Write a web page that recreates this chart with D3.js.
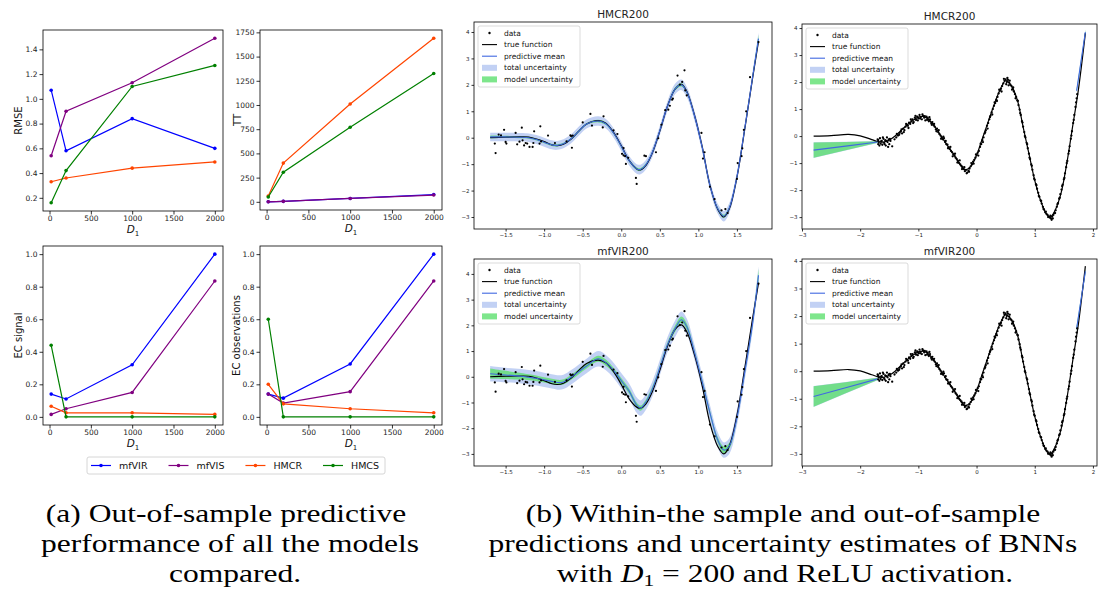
<!DOCTYPE html>
<html>
<head>
<meta charset="utf-8">
<script src="https://cdn.jsdelivr.net/npm/d3@7"></script>
<style>
  body { margin: 0; background: #fff; }
  svg { display: block; font-family: "DejaVu Sans", sans-serif; }
</style>
</head>
<body>
<svg id="fig" width="1100" height="598"></svg>
<script>
// ---- (a) metrics vs D1 ----
var D1 = [20, 200, 1000, 2000];
var models = ["mfVIR", "mfVIS", "HMCR", "HMCS"];
var modelColors = ["#0000ff", "#800080", "#ff4500", "#008000"];

// one row per model, in the order of `models`
var rmse = [[1.07, 0.58, 0.84, 0.60], [0.54, 0.90, 1.13, 1.49], [0.33, 0.36, 0.44, 0.49], [0.16, 0.42, 1.10, 1.27]];
var tt = [[0, 5, 35, 75], [0, 5, 35, 70], [60, 400, 1010, 1690], [50, 305, 770, 1325]];
var ecSignal = [[0.14, 0.11, 0.32, 1.0], [0.015, 0.05, 0.15, 0.835], [0.065, 0.025, 0.025, 0.015], [0.44, 0, 0, 0]];
var ecObs = [[0.14, 0.115, 0.325, 1.0], [0.14, 0.085, 0.155, 0.835], [0.20, 0.08, 0.05, 0.025], [0.60, 0, 0, 0]];

var d1Ticks = [0, 500, 1000, 1500, 2000];
var rmseTicks = [0.2, 0.4, 0.6, 0.8, 1.0, 1.2, 1.4];
var ttTicks = [0, 250, 500, 750, 1000, 1250, 1500, 1750];
var ecTicks = [0.0, 0.2, 0.4, 0.6, 0.8, 1.0];

// ---- (b) regression fits ----
var legendLabels = ["data", "true function", "predictive mean", "total uncertainty", "model uncertainty"];

// within-sample grid
var xIn = [-1.7, -1.5, -1.3, -1.2, -1.1, -1.0, -0.9, -0.83, -0.75, -0.65, -0.55, -0.45, -0.3, -0.2, -0.1, 0.0, 0.1, 0.2, 0.25, 0.32, 0.4, 0.5, 0.6, 0.7, 0.78, 0.85, 0.95, 1.05, 1.15, 1.25, 1.33, 1.4, 1.5, 1.6, 1.7, 1.78];
var trueIn = [0.0, 0.02, 0.03, 0.02, -0.05, -0.15, -0.27, -0.30, -0.25, -0.05, 0.25, 0.52, 0.65, 0.55, 0.2, -0.3, -0.85, -1.18, -1.22, -1.05, -0.6, 0.25, 1.2, 1.85, 2.02, 1.75, 0.85, -0.35, -1.8, -2.7, -3.0, -2.7, -1.5, 0.3, 2.2, 3.65];
var meanHmcrIn = [0.03, 0.03, 0.02, 0.0, -0.07, -0.17, -0.27, -0.29, -0.23, -0.04, 0.25, 0.52, 0.63, 0.53, 0.18, -0.32, -0.86, -1.18, -1.2, -1.02, -0.58, 0.27, 1.2, 1.85, 2.0, 1.73, 0.83, -0.37, -1.8, -2.68, -2.97, -2.67, -1.48, 0.32, 2.22, 3.75];
var totalHmcrIn = [0.16, 0.16, 0.16, 0.16, 0.17, 0.17, 0.17, 0.17, 0.17, 0.17, 0.17, 0.17, 0.18, 0.18, 0.18, 0.18, 0.18, 0.18, 0.18, 0.18, 0.18, 0.18, 0.19, 0.2, 0.2, 0.2, 0.19, 0.18, 0.18, 0.19, 0.2, 0.19, 0.18, 0.18, 0.19, 0.22];
var modelHmcrIn = [0.05, 0.04, 0.04, 0.04, 0.04, 0.04, 0.04, 0.04, 0.04, 0.04, 0.04, 0.04, 0.05, 0.05, 0.05, 0.05, 0.05, 0.05, 0.05, 0.05, 0.05, 0.05, 0.05, 0.06, 0.06, 0.06, 0.05, 0.05, 0.05, 0.06, 0.06, 0.06, 0.05, 0.06, 0.08, 0.15];
var meanMfvirIn = [0.12, 0.07, 0.02, -0.02, -0.06, -0.12, -0.18, -0.22, -0.2, -0.02, 0.2, 0.42, 0.7, 0.55, 0.25, -0.15, -0.55, -1.1, -1.22, -0.98, -0.5, 0.35, 1.25, 1.88, 2.22, 1.95, 0.95, -0.2, -1.4, -2.45, -2.85, -2.7, -1.6, 0.15, 2.0, 3.95];
var totalMfvirIn = [0.3, 0.28, 0.28, 0.28, 0.28, 0.28, 0.28, 0.28, 0.28, 0.28, 0.28, 0.28, 0.3, 0.3, 0.3, 0.3, 0.3, 0.3, 0.3, 0.3, 0.3, 0.3, 0.3, 0.32, 0.32, 0.32, 0.3, 0.3, 0.3, 0.3, 0.3, 0.3, 0.3, 0.3, 0.3, 0.35];
var modelMfvirIn = [0.2, 0.16, 0.13, 0.12, 0.11, 0.1, 0.1, 0.1, 0.1, 0.1, 0.1, 0.1, 0.12, 0.12, 0.1, 0.1, 0.1, 0.1, 0.1, 0.1, 0.1, 0.1, 0.1, 0.12, 0.12, 0.12, 0.1, 0.1, 0.1, 0.12, 0.14, 0.12, 0.1, 0.1, 0.12, 0.25];

var dataIn = [[-1.64, -0.22], [-1.63, -0.58], [-1.59, 0.12], [-1.56, 0.09], [-1.52, 0.30], [-1.50, -0.16], [-1.49, -0.22],
  [-1.37, 0.18], [-1.35, -0.25], [-1.32, -0.15], [-1.29, 0.38], [-1.28, -0.10], [-1.26, -0.29], [-1.24, -0.20], [-1.22, -0.22],
  [-1.19, -0.35], [-1.15, -0.35], [-1.13, 0.24], [-1.14, -0.20], [-1.06, -0.22], [-1.05, 0.43], [-1.04, -0.14], [-0.95, 0.08],
  [-0.86, -0.20], [-0.71, -0.14], [-0.66, 0.09], [-0.65, 0.06], [-0.64, -0.38], [-0.63, 0.08], [-0.50, 0.58], [-0.40, 0.90],
  [-0.38, 0.46], [-0.23, 0.81], [-0.24, 0.39], [-0.10, 0.28], [-0.05, 0.14], [0.01, -0.61], [0.03, -0.39], [0.03, -0.67],
  [0.05, -0.70], [0.06, -0.99], [0.09, -0.76], [0.19, -1.52], [0.20, -1.75], [0.30, -0.68], [0.32, -0.70], [0.45, -0.55],
  [0.48, -0.02], [0.52, 0.49], [0.57, 1.04], [0.61, 1.06], [0.63, 1.21], [0.66, 1.44], [0.67, 1.48], [0.73, 2.35],
  [0.76, 2.01], [0.79, 2.11], [0.82, 2.55], [0.83, 1.79], [0.85, 1.60], [1.04, 0.18], [1.06, -0.79], [1.08, -0.55],
  [1.15, -1.86], [1.21, -2.32], [1.30, -2.75], [1.35, -2.70], [1.38, -2.85], [1.50, -1.56], [1.51, -0.96], [1.56, -0.70],
  [1.57, -0.40], [1.59, 0.30], [1.62, 1.00], [1.67, 2.29], [1.78, 3.62]];

// out-of-sample grid
var xOut = [-2.8, -2.5, -2.2, -2.0, -1.8, -1.7, -1.6, -1.5, -1.4, -1.3, -1.2, -1.1, -1.0, -0.9, -0.8, -0.7, -0.6, -0.5, -0.4, -0.3, -0.2, -0.1, 0.0, 0.1, 0.2, 0.3, 0.4, 0.5, 0.6, 0.7, 0.8, 0.9, 1.0, 1.1, 1.2, 1.27, 1.35, 1.45, 1.55, 1.65, 1.75, 1.87];
var trueOut = [0.0, 0.02, 0.06, 0.01, -0.13, -0.2, -0.22, -0.15, 0.0, 0.2, 0.4, 0.57, 0.7, 0.72, 0.57, 0.3, -0.03, -0.35, -0.65, -1.0, -1.25, -1.12, -0.71, -0.09, 0.53, 1.15, 1.7, 2.05, 1.86, 1.34, 0.34, -0.65, -1.64, -2.38, -2.88, -3.0, -2.75, -2.13, -1.02, 0.34, 1.71, 3.81];
var xOutLeft = [-2.8, -2.25, -1.7];
var xOutRight = [1.72, 1.87];
var meanHmcrLeft = [-0.52, -0.37, -0.22], totalHmcrLeft = [0.29, 0.16, 0.04], modelHmcrLeft = [0.28, 0.15, 0.03];
var meanHmcrRight = [1.68, 3.85], totalHmcrRight = [0.06, 0.09], modelHmcrRight = [0.05, 0.08];
var meanMfvirLeft = [-0.92, -0.6, -0.28], totalMfvirLeft = [0.38, 0.21, 0.05], modelMfvirLeft = [0.37, 0.2, 0.04];
var meanMfvirRight = [1.55, 3.62], totalMfvirRight = [0.1, 0.11], modelMfvirRight = [0.09, 0.1];

var dataOut = [[-1.70, -0.12], [-1.69, -0.30], [-1.68, -0.22], [-1.66, -0.08], [-1.65, -0.28], [-1.63, -0.18], [-1.62, -0.32],
  [-1.60, -0.10], [-1.59, -0.25], [-1.57, -0.15], [-1.56, -0.35], [-1.54, -0.05], [-1.53, -0.22], [-1.51, -0.12], [-1.50, -0.30],
  [-1.48, -0.18], [-1.45, -0.38], [-1.38, -0.05], [-1.35, 0.02], [-1.32, 0.12], [-1.30, 0.18], [-1.28, 0.10], [-1.26, 0.28],
  [-1.24, 0.22], [-1.22, 0.35], [-1.20, 0.42], [-1.18, 0.38], [-1.16, 0.50], [-1.14, 0.45], [-1.12, 0.55], [-1.10, 0.62],
  [-1.08, 0.52], [-1.06, 0.68], [-1.04, 0.60], [-1.02, 0.72], [-1.00, 0.66], [-0.98, 0.78], [-0.96, 0.70], [-0.94, 0.62],
  [-0.92, 0.75], [-0.90, 0.68], [-0.88, 0.58], [-0.86, 0.72], [-0.84, 0.66], [-0.82, 0.55], [-0.80, 0.62], [-0.78, 0.48],
  [-0.76, 0.52], [-0.74, 0.40], [-0.72, 0.35], [-0.70, 0.25], [-0.68, 0.28], [-0.66, 0.15], [-0.64, 0.08], [-0.62, 0.02],
  [-0.60, -0.05], [-0.58, -0.12], [-0.56, -0.08], [-0.54, -0.22], [-0.52, -0.30], [-0.50, -0.32], [-0.48, -0.42], [-0.46, -0.48],
  [-0.44, -0.55], [-0.42, -0.60], [-0.40, -0.68], [-0.38, -0.72], [-0.36, -0.80], [-0.34, -0.85], [-0.32, -0.92], [-0.30, -1.00],
  [-0.28, -1.05], [-0.26, -1.10], [-0.24, -1.15], [-0.22, -1.22], [-0.20, -1.30], [-0.18, -1.25], [-0.16, -1.35], [-0.14, -1.28],
  [-0.12, -1.20], [-0.10, -1.12], [-0.08, -1.05], [-0.06, -0.95], [-0.04, -0.88], [-0.02, -0.80], [0.00, -0.70], [0.02, -0.62],
  [0.04, -0.55], [0.06, -0.40], [0.08, -0.30], [0.10, -0.15], [0.12, -0.05], [0.14, 0.10], [0.16, 0.22], [0.18, 0.38],
  [0.20, 0.48], [0.22, 0.62], [0.24, 0.75], [0.26, 0.88], [0.28, 1.00], [0.30, 1.12], [0.32, 1.22], [0.34, 1.35],
  [0.36, 1.45], [0.38, 1.58], [0.40, 1.68], [0.42, 1.75], [0.44, 1.85], [0.46, 1.95], [0.48, 2.05], [0.50, 2.10],
  [0.52, 2.00], [0.54, 2.08], [0.56, 1.98], [0.58, 1.90], [0.60, 1.85], [0.62, 1.78], [0.64, 1.65], [0.66, 1.55],
  [0.68, 1.45], [0.70, 1.32], [0.72, 1.15], [0.74, 0.98], [0.76, 0.78], [0.78, 0.55], [0.80, 0.35], [0.82, 0.15],
  [0.84, -0.05], [0.86, -0.25], [0.88, -0.45], [0.90, -0.65], [0.92, -0.85], [0.94, -1.05], [0.96, -1.25], [0.98, -1.45],
  [1.00, -1.62], [1.02, -1.78], [1.04, -1.95], [1.06, -2.10], [1.08, -2.25], [1.10, -2.38], [1.12, -2.50], [1.14, -2.62],
  [1.16, -2.72], [1.18, -2.82], [1.20, -2.88], [1.22, -2.92], [1.24, -2.98], [1.26, -3.02], [1.28, -3.05], [1.30, -2.98],
  [1.32, -2.92], [1.34, -2.85], [1.36, -2.75], [1.38, -2.62], [1.40, -2.48], [1.42, -2.32], [1.44, -2.15], [1.46, -1.98],
  [1.48, -1.80], [1.50, -1.60], [1.52, -1.38], [1.54, -1.15], [1.56, -0.92], [1.58, -0.65], [1.60, -0.38], [1.62, -0.10],
  [1.64, 0.18], [1.66, 0.48], [1.68, 0.78], [1.70, 1.08], [1.72, 1.40],
  [-1.69, -0.15], [-1.67, -0.35], [-1.64, -0.20], [-1.61, -0.05], [-1.58, -0.30], [-1.55, -0.18], [-1.52, -0.40], [-1.49, -0.10],
  [-1.41, -0.12], [-1.37, 0.08], [-1.33, 0.05], [-1.29, 0.25], [-1.25, 0.15], [-1.21, 0.45], [-1.17, 0.30], [-1.13, 0.62],
  [-1.09, 0.48], [-1.05, 0.75], [-1.01, 0.58], [-0.97, 0.65], [-0.93, 0.80], [-0.89, 0.74], [-0.85, 0.60], [-0.81, 0.70],
  [-0.77, 0.42], [-0.73, 0.45], [-0.69, 0.18], [-0.65, 0.22], [-0.61, -0.10], [-0.57, -0.02], [-0.53, -0.18], [-0.49, -0.45],
  [-0.45, -0.40], [-0.41, -0.75], [-0.37, -0.65], [-0.33, -0.98], [-0.29, -0.90], [-0.25, -1.22], [-0.21, -1.15], [-0.17, -1.38],
  [-0.13, -1.32], [-0.09, -1.00], [-0.05, -1.02], [-0.01, -0.68], [0.03, -0.72], [0.07, -0.28], [0.11, -0.22], [0.15, 0.15],
  [0.19, 0.28], [0.23, 0.70], [0.27, 0.80], [0.31, 1.25], [0.35, 1.30], [0.39, 1.72], [0.43, 1.65], [0.47, 2.12],
  [0.51, 1.92], [0.53, 2.15], [0.55, 1.88], [0.57, 2.05], [0.61, 1.72], [0.63, 1.80], [0.67, 1.40], [0.71, 1.30],
  [0.75, 0.85], [0.79, 0.50], [0.83, 0.00], [0.87, -0.30], [0.91, -0.80], [0.95, -1.10], [0.99, -1.58], [1.03, -1.82],
  [1.07, -2.22], [1.11, -2.40], [1.15, -2.70], [1.19, -2.80], [1.23, -3.00], [1.27, -2.95], [1.29, -3.10], [1.31, -3.05],
  [1.35, -2.85], [1.39, -2.52], [1.43, -2.28], [1.47, -1.85], [1.51, -1.55], [1.55, -1.00], [1.59, -0.55], [1.63, 0.02],
  [1.67, 0.60], [1.71, 1.25], [1.73, 1.55]];

var inTicksX = [-1.5, -1.0, -0.5, 0.0, 0.5, 1.0, 1.5];
var outTicksX = [-3, -2, -1, 0, 1, 2];
var fitTicksY = [-3, -2, -1, 0, 1, 2, 3, 4];

var captionA = ["(a) Out-of-sample predictive", "performance of all the models", "compared."];
var captionB = ["(b) Within-the sample and out-of-sample", "predictions and uncertainty estimates of BNNs"];

var svg = d3.select("#fig");
var TOTAL_FILL = "#a8bdf0", MODEL_FILL = "#5ee06f", MEAN_COLOR = "#4169e1";

function padded(v) {
  var e = d3.extent(v), p = (e[1] - e[0]) * 0.05;
  return [e[0] - p, e[1] + p];
}
var minus = function(s) { return s.replace("-", "\u2212"); };

function styleAxis(ax, size) {
  ax.attr("font-size", size).attr("font-family", "DejaVu Sans");
  ax.select(".domain").remove();
  ax.selectAll("line").attr("stroke", "#000").attr("stroke-width", 0.8);
  ax.selectAll("text").attr("fill", "#222");
}

function d1Label(g, x, y) {
  var t = g.append("text").attr("x", x).attr("y", y).attr("text-anchor", "middle")
    .attr("font-size", 10.5).attr("fill", "#111");
  t.append("tspan").attr("font-style", "italic").text("D");
  t.append("tspan").attr("font-size", 7).attr("dy", 2.5).text("1");
}

function metricPanel(box, series, label, yTicks, yFmt) {
  var g = svg.append("g");
  var x = d3.scaleLinear().domain(padded(D1)).range([box.l, box.r]);
  var y = d3.scaleLinear().domain(padded(d3.merge(series))).range([box.b, box.t]);
  var line = d3.line().x(function(d) { return x(d[0]); }).y(function(d) { return y(d[1]); });
  series.forEach(function(vals, i) {
    var pts = D1.map(function(d, j) { return [d, vals[j]]; });
    g.append("path").attr("d", line(pts)).attr("fill", "none")
      .attr("stroke", modelColors[i]).attr("stroke-width", 1.2);
    g.selectAll(null).data(pts).enter().append("circle")
      .attr("cx", function(d) { return x(d[0]); }).attr("cy", function(d) { return y(d[1]); })
      .attr("r", 1.8).attr("fill", modelColors[i]);
  });
  var ax = g.append("g").attr("transform", "translate(0," + box.b + ")")
    .call(d3.axisBottom(x).tickValues(d1Ticks).tickSize(3.5).tickPadding(1.5).tickFormat(d3.format("d")));
  styleAxis(ax, 7.5);
  var ay = g.append("g").attr("transform", "translate(" + box.l + ",0)")
    .call(d3.axisLeft(y).tickValues(yTicks).tickSize(3.5).tickPadding(2).tickFormat(yFmt));
  styleAxis(ay, 7.5);
  g.append("rect").attr("x", box.l).attr("y", box.t).attr("width", box.r - box.l).attr("height", box.b - box.t)
    .attr("fill", "none").attr("stroke", "#000").attr("stroke-width", 0.8);
  d1Label(g, (box.l + box.r) / 2, box.b + 22);
  g.append("text").attr("transform", "translate(" + box.yl + "," + (box.t + box.b) / 2 + ") rotate(-90)")
    .attr("text-anchor", "middle").attr("dy", "0.35em").attr("font-size", 10).attr("fill", "#111").text(label);
}

metricPanel({l: 43, r: 223, t: 30, b: 211, yl: 18}, rmse, "RMSE", rmseTicks, d3.format(".1f"));
metricPanel({l: 260, r: 442, t: 30, b: 210, yl: 237}, tt, "TT", ttTicks, d3.format("d"));
metricPanel({l: 43, r: 223, t: 246, b: 425, yl: 18}, ecSignal, "EC signal", ecTicks, d3.format(".1f"));
metricPanel({l: 260, r: 442, t: 246, b: 425, yl: 236}, ecObs, "EC observations", ecTicks, d3.format(".1f"));

// shared legend for (a)
(function() {
  var g = svg.append("g");
  g.append("rect").attr("x", 87).attr("y", 457).attr("width", 298).attr("height", 17).attr("rx", 2)
    .attr("fill", "#fff").attr("stroke", "#ccc").attr("stroke-width", 0.8);
  var cx = 91;
  models.forEach(function(m, i) {
    g.append("line").attr("x1", cx).attr("x2", cx + 20).attr("y1", 465.5).attr("y2", 465.5)
      .attr("stroke", modelColors[i]).attr("stroke-width", 1.2);
    g.append("circle").attr("cx", cx + 10).attr("cy", 465.5).attr("r", 1.8).attr("fill", modelColors[i]);
    var t = g.append("text").attr("x", cx + 28).attr("y", 465.5).attr("dy", "0.35em")
      .attr("font-size", 9.5).attr("fill", "#111").text(m);
    cx += 28 + t.node().getComputedTextLength() + 21;
  });
})();

function fitPanel(cfg) {
  var g = svg.append("g");
  var b = cfg.box;
  var x = d3.scaleLinear().domain(cfg.xDom).range([b.l, b.r]);
  var y = d3.scaleLinear().domain(cfg.yDom).range([b.b, b.t]);
  var clipId = "clip" + cfg.id;
  g.append("clipPath").attr("id", clipId).append("rect")
    .attr("x", b.l).attr("y", b.t).attr("width", b.r - b.l).attr("height", b.b - b.t);
  var inner = g.append("g").attr("clip-path", "url(#" + clipId + ")");

  cfg.segments.forEach(function(s) {
    var curve = s.smooth ? d3.curveCatmullRom : d3.curveLinear;
    var rows = s.x.map(function(v, i) { return {x: v, m: s.mean[i], t: s.total[i], k: s.model[i]}; });
    inner.append("path").attr("fill", TOTAL_FILL).attr("fill-opacity", 0.7)
      .attr("d", d3.area().curve(curve).x(function(d) { return x(d.x); })
        .y0(function(d) { return y(d.m - d.t); }).y1(function(d) { return y(d.m + d.t); })(rows));
    inner.append("path").attr("fill", MODEL_FILL).attr("fill-opacity", 0.8)
      .attr("d", d3.area().curve(curve).x(function(d) { return x(d.x); })
        .y0(function(d) { return y(d.m - d.k); }).y1(function(d) { return y(d.m + d.k); })(rows));
  });
  var trueRows = cfg.trueX.map(function(v, i) { return [v, cfg.trueY[i]]; });
  inner.append("path").attr("fill", "none").attr("stroke", "#000").attr("stroke-width", 1.2)
    .attr("d", d3.line().curve(d3.curveCatmullRom).x(function(d) { return x(d[0]); }).y(function(d) { return y(d[1]); })(trueRows));
  cfg.segments.forEach(function(s) {
    var curve = s.smooth ? d3.curveCatmullRom : d3.curveLinear;
    inner.append("path").attr("fill", "none").attr("stroke", MEAN_COLOR).attr("stroke-width", 1.1)
      .attr("d", d3.line().curve(curve).x(function(d, i) { return x(s.x[i]); }).y(function(d) { return y(d); })(s.mean));
  });
  inner.selectAll(null).data(cfg.points).enter().append("circle")
    .attr("cx", function(d) { return x(d[0]); }).attr("cy", function(d) { return y(d[1]); })
    .attr("r", cfg.dotR).attr("fill", "#000");

  var ax = g.append("g").attr("transform", "translate(0," + b.b + ")")
    .call(d3.axisBottom(x).tickValues(cfg.xTicks).tickSize(2.5).tickPadding(2)
      .tickFormat(function(d) { return minus(cfg.xFmt(d)); }));
  styleAxis(ax, 5.5);
  var ay = g.append("g").attr("transform", "translate(" + b.l + ",0)")
    .call(d3.axisLeft(y).tickValues(fitTicksY).tickSize(2.5).tickPadding(2)
      .tickFormat(function(d) { return minus(d3.format("d")(d)); }));
  styleAxis(ay, 5.5);
  g.append("rect").attr("x", b.l).attr("y", b.t).attr("width", b.r - b.l).attr("height", b.b - b.t)
    .attr("fill", "none").attr("stroke", "#000").attr("stroke-width", 0.8);
  g.append("text").attr("x", (b.l + b.r) / 2).attr("y", b.t - 4).attr("text-anchor", "middle")
    .attr("font-size", 10.5).attr("fill", "#222").text(cfg.title);

  // legend
  var lx = b.l + 4, ly = b.t + 4;
  var lg = g.append("g");
  lg.append("rect").attr("x", lx).attr("y", ly).attr("width", 102).attr("height", 61).attr("rx", 2)
    .attr("fill", "#fff").attr("fill-opacity", 0.85).attr("stroke", "#ccc").attr("stroke-width", 0.7);
  legendLabels.forEach(function(lab, i) {
    var cy = ly + 7 + i * 11.6;
    if (i === 0) {
      lg.append("circle").attr("cx", lx + 11.5).attr("cy", cy).attr("r", 1.2).attr("fill", "#000");
    } else if (i === 1 || i === 2) {
      lg.append("line").attr("x1", lx + 4).attr("x2", lx + 19).attr("y1", cy).attr("y2", cy)
        .attr("stroke", i === 1 ? "#000" : MEAN_COLOR).attr("stroke-width", 1.1);
    } else {
      lg.append("rect").attr("x", lx + 4).attr("y", cy - 3).attr("width", 15).attr("height", 6)
        .attr("fill", i === 3 ? TOTAL_FILL : MODEL_FILL).attr("fill-opacity", i === 3 ? 0.7 : 0.8);
    }
    lg.append("text").attr("x", lx + 26).attr("y", cy).attr("dy", "0.35em")
      .attr("font-size", 7.5).attr("fill", "#111").text(lab);
  });
}

var fmtIn = d3.format(".1f"), fmtOut = d3.format("d");

fitPanel({id: 1, title: "HMCR200", box: {l: 474, r: 772, t: 22, b: 229}, xDom: [-1.91, 1.955], yDom: [-3.454, 4.378],
  xTicks: inTicksX, xFmt: fmtIn, trueX: xIn, trueY: trueIn, points: dataIn, dotR: 1.1,
  segments: [{smooth: true, x: xIn, mean: meanHmcrIn, total: totalHmcrIn, model: modelHmcrIn}]});
fitPanel({id: 2, title: "HMCR200", box: {l: 802, r: 1097, t: 24, b: 229}, xDom: [-3, 2.07], yDom: [-3.44, 4.15],
  xTicks: outTicksX, xFmt: fmtOut, trueX: xOut, trueY: trueOut, points: dataOut, dotR: 1.15,
  segments: [{x: xOutLeft, mean: meanHmcrLeft, total: totalHmcrLeft, model: modelHmcrLeft},
             {x: xOutRight, mean: meanHmcrRight, total: totalHmcrRight, model: modelHmcrRight}]});
fitPanel({id: 3, title: "mfVIR200", box: {l: 474, r: 772, t: 259, b: 466}, xDom: [-1.91, 1.955], yDom: [-3.47, 4.58],
  xTicks: inTicksX, xFmt: fmtIn, trueX: xIn, trueY: trueIn, points: dataIn, dotR: 1.1,
  segments: [{smooth: true, x: xIn, mean: meanMfvirIn, total: totalMfvirIn, model: modelMfvirIn}]});
fitPanel({id: 4, title: "mfVIR200", box: {l: 802, r: 1097, t: 259, b: 466}, xDom: [-3, 2.07], yDom: [-3.44, 4.07],
  xTicks: outTicksX, xFmt: fmtOut, trueX: xOut, trueY: trueOut, points: dataOut, dotR: 1.15,
  segments: [{x: xOutLeft, mean: meanMfvirLeft, total: totalMfvirLeft, model: modelMfvirLeft},
             {x: xOutRight, mean: meanMfvirRight, total: totalMfvirRight, model: modelMfvirRight}]});

// captions: Liberation Serif widened uniformly to the width of the LaTeX text
var CAPTION_STRETCH = 1.26;
function captionLine(txt, cx, y) {
  var t = svg.append("text").attr("x", cx).attr("y", y).attr("text-anchor", "middle")
    .attr("font-family", "'Liberation Serif', 'DejaVu Serif', serif").attr("font-size", 25).attr("fill", "#000");
  if (typeof txt === "string") t.text(txt);
  return t;
}
function stretch(t) {
  var w = t.node().getComputedTextLength();
  t.attr("textLength", w * CAPTION_STRETCH).attr("lengthAdjust", "spacingAndGlyphs");
}
stretch(captionLine(captionA[0], 226, 522));
stretch(captionLine(captionA[1], 230, 552));
stretch(captionLine(captionA[2], 235, 582));
stretch(captionLine(captionB[0], 783, 522));
stretch(captionLine(captionB[1], 783, 552));
var c3 = captionLine(null, 785, 582);
c3.append("tspan").text("with ");
c3.append("tspan").attr("font-style", "italic").text("D");
c3.append("tspan").attr("font-size", 17).attr("dy", 4).text("1");
c3.append("tspan").attr("dy", -4).text(" = 200 and ReLU activation.");
stretch(c3);
</script>
</body>
</html>
